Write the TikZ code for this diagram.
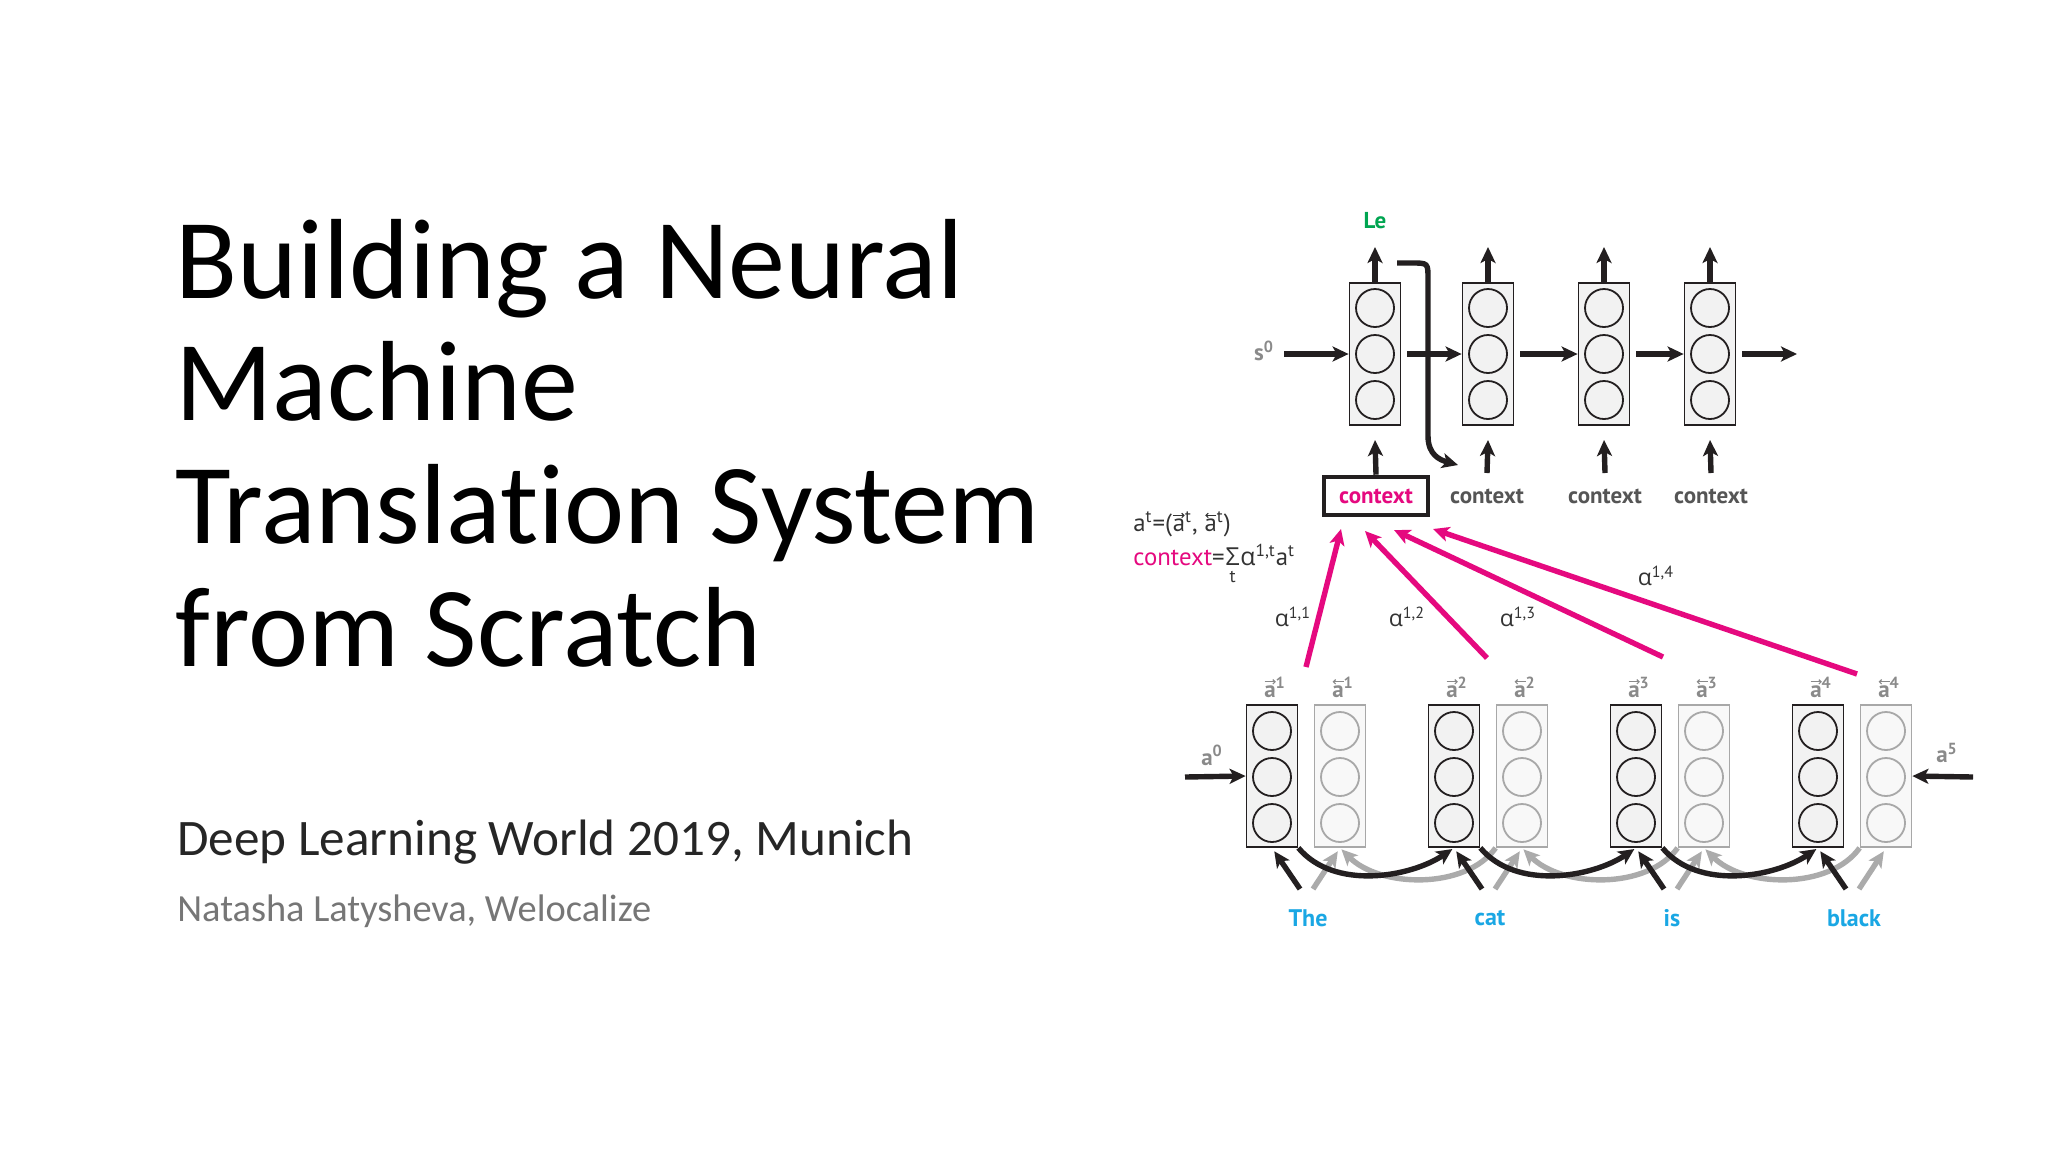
\documentclass[tikz,border=0pt]{standalone}
\usepackage{fontspec}
\usepackage{graphicx}
\setmainfont{Carlito}[Ligatures=NoCommon]
\newfontfamily\dgfont{PT Sans}
\newfontfamily\gkfont{Open Sans}
\usetikzlibrary{arrows.meta}
\definecolor{pinkc}{HTML}{E5097F}
\definecolor{greenc}{HTML}{00A551}
\definecolor{cyanc}{HTML}{1AA7E4}
\definecolor{arrc}{HTML}{231F20}
\definecolor{graylab}{HTML}{8A8A8A}
\definecolor{ctxgray}{HTML}{555555}
\definecolor{boxfill}{HTML}{F2F2F2}
\definecolor{bwdline}{HTML}{A8A8A8}
\definecolor{bwdfill}{HTML}{F8F8F8}
\definecolor{grayarr}{HTML}{ABABAB}
\definecolor{subc}{HTML}{262626}
\definecolor{authc}{HTML}{767676}
\definecolor{eqc}{HTML}{333333}
\begin{document}
\begin{tikzpicture}[x=0.5pt,y=-0.5pt,
  title/.style={font=\fontsize{57}{60}\selectfont, inner sep=0, anchor=base west},
  subt/.style={font=\fontsize{25.6}{30}\selectfont, text=subc, inner sep=0, anchor=base west},
  auth/.style={font=\fontsize{19.2}{24}\selectfont, text=authc, inner sep=0, anchor=base west},
  cell/.style={draw=arrc, fill=boxfill, line width=0.9pt, minimum width=25.5pt, minimum height=71pt, inner sep=0},
  bcell/.style={cell, draw=bwdline, fill=bwdfill},
  unit/.style={circle, draw=arrc, line width=0.9pt, minimum size=19pt, inner sep=0},
  bunit/.style={unit, draw=bwdline},
  blk/.style={draw=arrc, line width=2.7pt, -{Stealth[length=8pt,width=7.5pt,inset=2pt]}},
  gry/.style={blk, draw=grayarr},
  pk/.style={blk, draw=pinkc},
  varr/.style={line width=0.55pt, -{Straight Barb[length=1.1pt,width=2.2pt]}},
  lab/.style={font=\dgfont\bfseries\fontsize{11.5}{12}\selectfont, inner sep=0},
  word/.style={font=\dgfont\bfseries\fontsize{12}{13}\selectfont, text=cyanc, inner sep=0},
  eq/.style={font=\dgfont\fontsize{12.4}{13}\selectfont, text=eqc, inner sep=0, anchor=base west},
  alab/.style={font=\dgfont\fontsize{11.5}{12}\selectfont, text=eqc, inner sep=0}
]
\useasboundingbox (0,0) rectangle (2048,1152);
\fill[white] (0,0) rectangle (2048,1152);

% ---- slide text ----
\node[title] (t1) at (175,298) {Building a Neural};
\node[title] (t2) at (175,420) {Machine};
\node[title] (t3) at (175,543) {Translation System};
\node[title] (t4) at (175,666) {from Scratch};
\node[subt] (st) at (177,855) {Deep Learning World 2019, Munich};
\node[auth] (au) at (177,921) {Natasha Latysheva, Welocalize};

% ---- decoder ----
\foreach \i/\x in {1/1375,2/1488,3/1604,4/1710}{
  \node[cell] (d\i) at (\x,354) {};
  \node[unit] (dua\i) at (\x,308) {};
  \node[unit] (dub\i) at (\x,354) {};
  \node[unit] (duc\i) at (\x,400) {};
  \coordinate (dtop\i) at (\x,247);
  \coordinate (din\i) at (\x,440);
  \draw[blk] (d\i.north) -- (dtop\i);
}
\node[lab, text=greenc] (le) at (1375,221) {Le};
\node[lab, text=graylab] (s0) at (1264,351) {s\textsuperscript{0}};
\coordinate (s0r) at (1284,354);
\draw[blk] (s0r) -- (d1.west);
\draw[blk, shorten <=3pt] (d1.east) -- (d2.west);
\draw[blk, shorten <=3pt] (d2.east) -- (d3.west);
\draw[blk, shorten <=3pt] (d3.east) -- (d4.west);
\coordinate (dout) at (1797,354);
\draw[blk, shorten <=3pt] (d4.east) -- (dout);

% feedback arrow
\coordinate (fbA) at (1397,263);
\coordinate (fbB) at (1458,465);
\draw[blk] (fbA) -- (1412,263) .. controls (1428,263) and (1428,263) .. (1428,279) -- (1428,436) .. controls (1428,455) and (1440,460) .. (fbB);

% context labels
\node[draw=arrc, line width=2.3pt, minimum width=52pt, minimum height=19pt, lab, text=pinkc] (cbox) at (1376,496) {context};
\draw[blk] (cbox.north) -- (din1);
\foreach \i/\x in {2/1487,3/1605,4/1711}{
  \node[lab, text=ctxgray] (c\i) at (\x,496) {context};
  \coordinate (cup\i) at (\x,473);
  \draw[blk] (cup\i) -- (din\i);
}

% equations
\node[eq] (e1a) at (1133,531) {a\textsuperscript{t}=(};
\node[eq] (e1b) at (e1a.base east) {a\textsuperscript{t},\kern0.25em};
\node[eq] (e1c) at (e1b.base east) {a\textsuperscript{t})};
\draw[varr, draw=eqc] ([xshift=0.5pt,yshift=7.8pt]e1b.base west) -- ++(5.6pt,0);
\draw[varr, draw=eqc] ([xshift=6.1pt,yshift=7.8pt]e1c.base west) -- ++(-5.6pt,0);
\node[eq] (e2a) at (1133,565) {{\color{pinkc}context}=};
\node[eq] (e2b) at (e2a.base east) {{\gkfont Σ}};
\node[eq] (e2c) at (e2b.base east) {{\gkfont α}\textsuperscript{1,t}a\textsuperscript{t}};
\node[font=\dgfont\fontsize{9}{9}\selectfont, text=eqc, inner sep=0, anchor=north] (e2t) at ([yshift=-2.5pt]e2b.south) {t};

% attention arrows
\coordinate (p1s) at (1306,667); \coordinate (p1e) at (1341,529);
\coordinate (p2s) at (1487,658); \coordinate (p2e) at (1365,531);
\coordinate (p3s) at (1663,657); \coordinate (p3e) at (1394,530);
\coordinate (p4s) at (1857,674); \coordinate (p4e) at (1433,529);
\draw[pk] (p1s) -- (p1e);
\draw[pk] (p2s) -- (p2e);
\draw[pk] (p3s) -- (p3e);
\draw[pk] (p4s) -- (p4e);
\node[alab] (al1) at (1293,617) {{\gkfont α}\textsuperscript{1,1}};
\node[alab] (al2) at (1407,617) {{\gkfont α}\textsuperscript{1,2}};
\node[alab] (al3) at (1518,617) {{\gkfont α}\textsuperscript{1,3}};
\node[alab] (al4) at (1656,576) {{\gkfont α}\textsuperscript{1,4}};

% ---- encoder ----
\foreach \i/\w in {1/The,2/cat,3/is,4/black}{
  \pgfmathsetmacro\fx{1272+182*(\i-1)}
  \pgfmathsetmacro\bx{\fx+68}
  \node[cell] (f\i) at (\fx,776) {};
  \node[unit] (fua\i) at (\fx,731) {};
  \node[unit] (fub\i) at (\fx,777) {};
  \node[unit] (fuc\i) at (\fx,823) {};
  \node[bcell] (b\i) at (\bx,776) {};
  \node[bunit] (bua\i) at (\bx,731) {};
  \node[bunit] (bub\i) at (\bx,777) {};
  \node[bunit] (buc\i) at (\bx,823) {};
  \node[lab, text=graylab, anchor=base] (fl\i) at (\fx+3,697) {a\textsuperscript{\i}};
  \node[lab, text=graylab, anchor=base] (bl\i) at (\bx+3,697) {a\textsuperscript{\i}};
  \draw[varr, draw=graylab] ([xshift=0.4pt,yshift=7.6pt]fl\i.base west) -- ++(5.6pt,0);
  \draw[varr, draw=graylab] ([xshift=6.0pt,yshift=7.6pt]bl\i.base west) -- ++(-5.6pt,0);
  \node[word] (w\i) at (\fx+36,918) {\w};
  \coordinate (wk\i) at (\fx+28,889);
  \coordinate (wg\i) at (\fx+41,889);
}
% gray backward recurrences
\foreach \i/\j in {1/2,2/3,3/4}{
  \draw[gry, shorten >=1pt] (b\j.south west) .. controls +(-30,42) and +(40,40) .. (b\i.south);
}
\foreach \i in {1,...,4}{
  \draw[gry, shorten >=2pt] (wg\i) -- (b\i.south);
}
% black forward recurrences
\foreach \i/\j in {1/2,2/3,3/4}{
  \draw[blk, shorten >=1pt] (f\i.south east) .. controls +(36,43) and +(-43,29) .. (f\j.south);
}
\foreach \i in {1,...,4}{
  \draw[blk, shorten >=2pt] (wk\i) -- (f\i.south);
}
\node[lab, text=graylab] (a0) at (1212,755) {a\textsuperscript{0}};
\coordinate (a0s) at (1185,777);
\draw[blk] (a0s) -- (f1.west);
\node[lab, text=graylab] (a5) at (1947,753) {a\textsuperscript{5}};
\coordinate (a5s) at (1973,777);
\draw[blk] (a5s) -- (b4.east);
\end{tikzpicture}
\end{document}
